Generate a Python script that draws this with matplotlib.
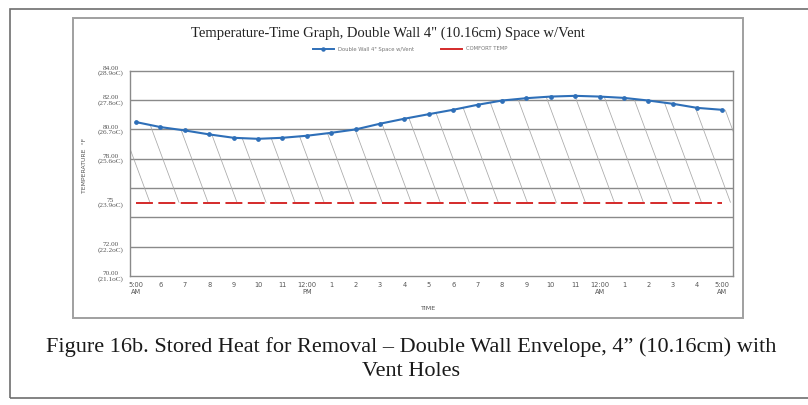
import numpy as np
import matplotlib
matplotlib.use("Agg")
import matplotlib.pyplot as plt
from matplotlib.patches import Rectangle
from matplotlib.lines import Line2D

# ---------------- data ----------------
hours = list(range(25))
time_labels = ["5:00\nAM", "6", "7", "8", "9", "10", "11", "12:00\nPM", "1", "2", "3", "4",
               "5", "6", "7", "8", "9", "10", "11", "12:00\nAM", "1", "2", "3", "4", "5:00\nAM"]
temps_f = [80.49, 80.15, 79.92, 79.65, 79.42, 79.35, 79.42, 79.56, 79.76, 79.99, 80.38, 80.72,
           81.03, 81.33, 81.67, 81.96, 82.12, 82.23, 82.28, 82.23, 82.14, 81.96, 81.74, 81.46, 81.33]
comfort_f = 75
ytick_vals = [84, 82, 80, 78, 75, 72, 70]
ytick_labels = ["84.00\n(28.9oC)", "82.00\n(27.8oC)", "80.00\n(26.7oC)", "78.00\n(25.6oC)",
                "75\n(23.9oC)", "72.00\n(22.2oC)", "70.00\n(21.1oC)"]
grid_vals = [72, 74, 76, 78, 80, 82]
series_name = "Double Wall 4\" Space w/Vent"
comfort_name = "COMFORT TEMP"
title = "Temperature-Time Graph, Double Wall 4\" (10.16cm) Space w/Vent"
caption = "Figure 16b. Stored Heat for Removal \u2013 Double Wall Envelope, 4\u201d (10.16cm) with\nVent Holes"

W, H = 808, 405
def fx(px): return px / W
def fy(py): return 1 - py / H

fig = plt.figure(figsize=(W / 100, H / 100), dpi=100)
fig.patch.set_facecolor("white")

# outer page frame and chart frame
fig.add_artist(Rectangle((fx(10), fy(398)), fx(830) - fx(10), fy(9) - fy(398),
                         transform=fig.transFigure, fill=False, edgecolor="#6e6e6e", lw=1.2))
fig.add_artist(Rectangle((fx(73), fy(318)), fx(743) - fx(73), fy(18) - fy(318),
                         transform=fig.transFigure, fill=False, edgecolor="#a0a0a0", lw=1.4))

ax = fig.add_axes([fx(130), fy(276), fx(733) - fx(130), fy(70.6) - fy(276)])
ax.set_xlim(-0.25, 24.47)
ax.set_ylim(70, 84)

for g in grid_vals:
    ax.axhline(g, color="#8a8a8a", lw=1.0, zorder=1)

# hatch lines clipped to the region between the curve and the comfort line
xext = [ax.get_xlim()[0]] + hours + [ax.get_xlim()[1]]
yext = [temps_f[0]] + temps_f + [temps_f[-1]]
region = ax.fill_between(xext, yext, comfort_f, facecolor="none", edgecolor="none")
clip = region.get_paths()[0]
k = 0.223
for x0 in np.arange(0.57, 27, 1.19):
    ln, = ax.plot([x0, x0 - k * 12], [comfort_f, comfort_f + 12], color="#a8a8a8", lw=0.55, zorder=2)
    ln.set_clip_path(clip, ax.transData)

ax.plot([hours[0], hours[-1]], [comfort_f, comfort_f], color="#d42a2a", lw=1.4,
        linestyle=(0, (8.7, 2.8)), zorder=3)
ax.plot(hours, temps_f, color="#2e6fb8", lw=1.5, marker="o", markersize=2.4, zorder=4)

for s in ax.spines.values():
    s.set_color("#8a8a8a")
    s.set_linewidth(1.0)

ax.set_yticks(ytick_vals)
ax.set_yticklabels(ytick_labels, fontsize=5.2, color="#555555", linespacing=0.95)
ax.set_xticks(hours)
ax.set_xticklabels(time_labels, fontsize=4.8, color="#555555", linespacing=1.3, va="top")
ax.tick_params(length=0, pad=4)
for lab in ax.get_yticklabels():
    lab.set_family("Liberation Serif")
    lab.set_horizontalalignment("center")
ax.tick_params(axis="y", pad=14)
for lab in ax.get_xticklabels():
    lab.set_family("DejaVu Sans")

fig.text(fx(85), fy(165), "TEMPERATURE  \u00b0F", rotation=90, ha="center", va="center",
         fontsize=4.4, color="#555555")
fig.text(fx(428), fy(308), "TIME", ha="center", va="center", fontsize=4.6, color="#555555")

fig.text(fx(388), fy(33), title, ha="center", va="center", fontsize=10.5,
         family="Liberation Serif", color="#222222")

handles = [Line2D([], [], color="#2e6fb8", lw=1.4, marker="o", markersize=2.2),
           Line2D([], [], color="#d42a2a", lw=1.4)]
fig.legend(handles, [series_name, comfort_name], loc="center", bbox_to_anchor=(fx(410), fy(49)),
           ncol=2, frameon=False, fontsize=3.8, handlelength=4, columnspacing=5,
           labelcolor="#777777")

fig.text(fx(411), fy(359), caption, ha="center", va="center", fontsize=16.0,
         family="Liberation Serif", color="#1a1a1a", linespacing=1.32)

fig.savefig("out.png", dpi=100)
